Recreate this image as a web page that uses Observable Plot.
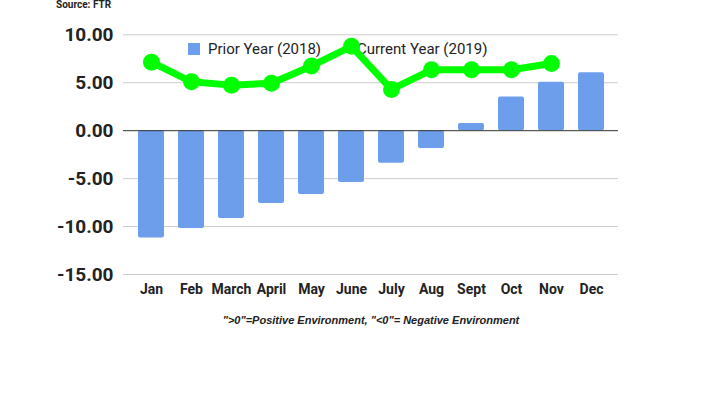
<!DOCTYPE html>
<html>
<head>
<meta charset="utf-8">
<script src="https://cdn.jsdelivr.net/npm/d3@7"></script>
<script src="https://cdn.jsdelivr.net/npm/@observablehq/plot@0.6"></script>
<style>
  html, body { margin: 0; padding: 0; background: #fff; }
  #wrap { position: relative; width: 711px; height: 399px; overflow: hidden; font-family: Roboto, sans-serif; }
  #wrap svg { position: absolute; left: 0; top: 0; }
  .src { position: absolute; left: 56px; top: -1px; font: bold 10px Roboto, sans-serif; color: #222; }
  .legend { position: absolute; left: 188px; top: 40px; font: 15px Roboto, sans-serif; color: #222; white-space: nowrap; }
  .legend .sw { display: inline-block; width: 12px; height: 12px; background: #6d9eeb; vertical-align: -1px; margin-right: 8px; }
  .legend .cur { position: absolute; left: 169px; top: 0; }
  .cap { position: absolute; left: 0; width: 742px; text-align: center; top: 314px; font: italic bold 11px "Liberation Sans", Arial, sans-serif; color: #222; }
</style>
</head>
<body>
<div id="wrap"></div>
<script>
const months = ["Jan","Feb","March","April","May","June","July","Aug","Sept","Oct","Nov","Dec"];
const prior2018 = [-11.2, -10.2, -9.15, -7.6, -6.65, -5.4, -3.4, -1.85, 0.75, 3.5, 5.05, 6.05];
const current2019 = [7.15, 5.1, 4.75, 4.95, 6.75, 8.8, 4.3, 6.35, 6.35, 6.35, 7.0];
const yTicks = [10, 5, 0, -5, -10, -15];
const sourceText = "Source: FTR";
const legendLabels = ["Prior Year (2018)", "Current Year (2019)"];
const captionText = "\">0\"=Positive Environment, \"<0\"= Negative Environment";

const barData = months.map((m, i) => ({month: m, value: prior2018[i]}));
const lineData = current2019.map((v, i) => ({month: months[i], value: v}));

const chart = Plot.plot({
  width: 711,
  height: 399,
  marginLeft: 123,
  marginRight: 93,
  marginTop: 34.3,
  marginBottom: 125,
  style: {background: "transparent", overflow: "visible"},
  x: {domain: months, paddingInner: 0.35, paddingOuter: 0.3625, label: null},
  y: {domain: [-15, 10], ticks: yTicks, label: null},
  marks: [
    Plot.ruleY(yTicks.filter(d => d !== 0), {stroke: "#cccccc", strokeWidth: 1}),
    Plot.axisY({ticks: yTicks, tickSize: 0, tickPadding: 10, tickFormat: d => d.toFixed(2),
      fontSize: 19, fontWeight: "bold", fill: "#222", fontFamily: "Roboto", label: null}),
    Plot.axisX({tickSize: 0, tickPadding: 10, fontSize: 14, fontWeight: "bold", fill: "#222", fontFamily: "Roboto", label: null}),
    Plot.barY(barData, {x: "month", y: "value", fill: "#6d9eeb", rx: 2}),
    Plot.ruleY([0], {stroke: "#333", strokeWidth: 1}),
    Plot.line(lineData, {x: "month", y: "value", stroke: "#00ff00", strokeWidth: 7, strokeLinejoin: "round"}),
    Plot.dot(lineData, {x: "month", y: "value", r: 8.5, fill: "#00ff00", stroke: "none"})
  ]
});

const wrap = document.getElementById("wrap");
const src = document.createElement("div"); src.className = "src"; src.textContent = sourceText; wrap.appendChild(src);
const leg = document.createElement("div"); leg.className = "legend";
leg.innerHTML = '<span class="sw"></span><span></span><span class="cur"></span>';
leg.children[1].textContent = legendLabels[0];
leg.children[2].textContent = legendLabels[1];
wrap.appendChild(leg);
wrap.appendChild(chart);
const cap = document.createElement("div"); cap.className = "cap"; cap.textContent = captionText; wrap.appendChild(cap);
</script>
</body>
</html>
